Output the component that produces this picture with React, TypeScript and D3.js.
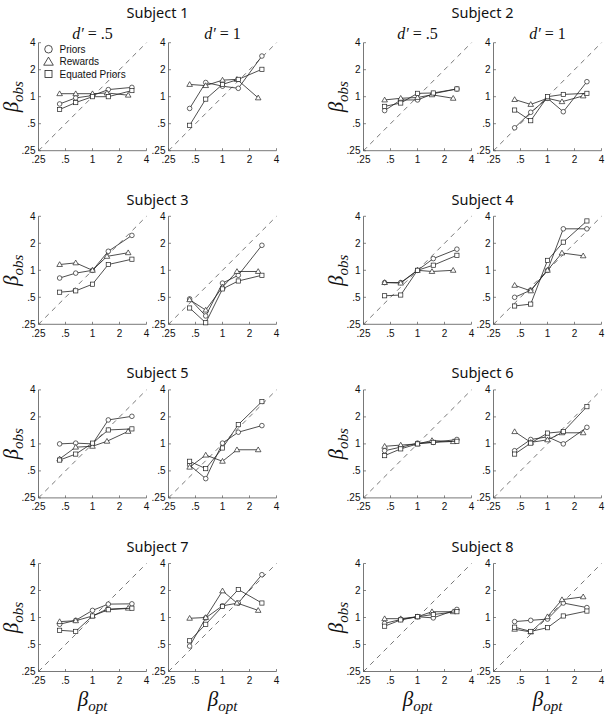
import React from "react";
import * as d3 from "d3";

const subjects = ["Subject 1", "Subject 2", "Subject 3", "Subject 4", "Subject 5", "Subject 6", "Subject 7", "Subject 8"];
const dPrimeLabels = [".5", "1"];
const tickValues = [0.25, 0.5, 1, 2, 4];
const tickLabels = [".25", ".5", "1", "2", "4"];
const seriesNames = ["Priors", "Rewards", "Equated Priors"];
const seriesMarkers = ["circle", "triangle", "square"];

const xPriors = [0.43, 0.65, 1, 1.5, 2.75];
const xRewards = [0.43, 0.65, 1, 1.45, 2.5];
const xEquated = [0.43, 0.65, 1, 1.5, 2.75];

// [subject][d' panel][5 values]
const priorsObs = [
  [[0.83, 0.97, 1.03, 1.2, 1.27], [0.74, 1.44, 1.31, 1.24, 2.84]],
  [[0.7, 0.92, 0.92, 1.08, 1.22], [0.45, 0.67, 0.96, 0.68, 1.47]],
  [[0.82, 0.93, 1.0, 1.63, 2.45], [0.48, 0.31, 0.72, 0.88, 1.9]],
  [[0.73, 0.73, 1.0, 1.35, 1.72], [0.5, 0.6, 1.0, 2.9, 2.9]],
  [[1.0, 1.02, 1.0, 1.85, 2.03], [0.58, 0.41, 1.02, 1.35, 1.6]],
  [[0.84, 0.92, 1.02, 1.04, 1.12], [0.84, 1.12, 1.2, 1.0, 1.53]],
  [[0.84, 0.93, 1.2, 1.41, 1.42], [0.48, 0.99, 1.35, 1.45, 3.0]],
  [[0.86, 0.95, 1.02, 0.99, 1.23], [0.9, 0.93, 0.96, 1.45, 1.29]],
];
const rewardsObs = [
  [[1.08, 1.08, 1.08, 1.1, 1.04], [1.37, 1.33, 1.53, 1.56, 0.97]],
  [[0.92, 0.96, 0.98, 1.05, 0.96], [0.93, 0.82, 0.96, 0.88, 1.02]],
  [[1.16, 1.21, 1.0, 1.43, 1.57], [0.47, 0.36, 0.65, 0.97, 0.97]],
  [[0.73, 0.72, 1.0, 0.97, 1.0], [0.68, 0.59, 1.0, 1.56, 1.45]],
  [[0.68, 0.92, 0.94, 1.07, 1.38], [0.55, 0.75, 0.64, 0.86, 0.86]],
  [[0.94, 0.97, 1.0, 1.09, 1.06], [1.37, 1.04, 1.11, 1.33, 1.33]],
  [[0.9, 0.92, 1.04, 1.24, 1.27], [0.98, 1.0, 1.98, 1.45, 1.2]],
  [[0.97, 0.97, 1.02, 1.16, 1.16], [0.74, 0.69, 1.02, 1.58, 1.7]],
];
const equatedObs = [
  [[0.72, 0.86, 1.0, 1.0, 1.17], [0.48, 0.94, 1.37, 1.56, 2.02]],
  [[0.78, 0.85, 1.09, 1.1, 1.22], [0.71, 0.54, 1.0, 1.06, 1.09]],
  [[0.57, 0.59, 0.7, 1.16, 1.33], [0.38, 0.26, 0.62, 0.76, 0.88]],
  [[0.52, 0.53, 1.0, 1.14, 1.47], [0.4, 0.42, 1.29, 2.06, 3.55]],
  [[0.66, 0.77, 1.02, 1.43, 1.47], [0.64, 0.53, 0.9, 1.64, 2.96]],
  [[0.74, 0.88, 1.0, 1.04, 1.07], [0.77, 1.02, 1.32, 1.37, 2.6]],
  [[0.72, 0.7, 1.04, 1.22, 1.27], [0.55, 0.84, 1.33, 2.05, 1.45]],
  [[0.8, 0.94, 1.02, 1.08, 1.16], [0.78, 0.7, 0.77, 1.04, 1.18]],
];

const W = 612;
const H = 714;
const SIZE = 108;
const sansFont = "'Liberation Sans', Arial, sans-serif";
const titleFont = "'Noto Sans', 'Open Sans', sans-serif";
const serifFont = "'Liberation Serif', 'DejaVu Serif', serif";

function Marker({ type, x, y }: { type: string; x: number; y: number }) {
  const common = { fill: "white", stroke: "#222", strokeWidth: 0.7 };
  if (type === "circle") return <circle cx={x} cy={y} r={2.3} {...common} />;
  if (type === "square") return <rect x={x - 2.1} y={y - 2.1} width={4.2} height={4.2} {...common} />;
  const s = 2.8;
  return <path d={`M${x},${y - s}L${x + s},${y + s * 0.7}L${x - s},${y + s * 0.7}Z`} {...common} />;
}

function Panel({ left, top, subj, p, showY, showX, showLegend }: any) {
  const xs = d3.scaleLog().base(2).domain([0.25, 4]).range([left, left + SIZE]);
  const ys = d3.scaleLog().base(2).domain([0.25, 4]).range([top + SIZE, top]);
  const line = d3.line<[number, number]>().x((d) => xs(d[0])).y((d) => ys(d[1]));
  const series = [
    { xv: xPriors, yv: priorsObs[subj][p], m: seriesMarkers[0] },
    { xv: xRewards, yv: rewardsObs[subj][p], m: seriesMarkers[1] },
    { xv: xEquated, yv: equatedObs[subj][p], m: seriesMarkers[2] },
  ];
  const axisColor = "#555";
  const ly = (i: number) => top + 6.5 + i * 12.4;
  return (
    <g>
      <line x1={xs(0.25)} y1={ys(0.25)} x2={xs(4)} y2={ys(4)} stroke="#555" strokeWidth={0.8} strokeDasharray="5,4.5" />
      <line x1={left} y1={top} x2={left} y2={top + SIZE} stroke={axisColor} strokeWidth={0.8} />
      <line x1={left} y1={top + SIZE} x2={left + SIZE} y2={top + SIZE} stroke={axisColor} strokeWidth={0.8} />
      {tickValues.map((t, i) => (
        <g key={"t" + i}>
          <line x1={xs(t)} x2={xs(t)} y1={top + SIZE} y2={top + SIZE - 2.5} stroke={axisColor} strokeWidth={0.7} />
          <line x1={left} x2={left + 2.5} y1={ys(t)} y2={ys(t)} stroke={axisColor} strokeWidth={0.7} />
          <text x={xs(t)} y={top + SIZE + 12.5} fontSize={10} fontFamily={sansFont} textAnchor="middle" fill="#111">
            {tickLabels[i]}
          </text>
          <text x={left - 3} y={ys(t) + 3.5} fontSize={10} fontFamily={sansFont} textAnchor="end" fill="#111">
            {tickLabels[i]}
          </text>
        </g>
      ))}
      {series.map((s, si) => {
        const pts = s.xv.map((x, k) => [x, s.yv[k]] as [number, number]);
        return (
          <g key={"s" + si}>
            <path d={line(pts) || ""} fill="none" stroke="#222" strokeWidth={0.8} />
            {pts.map((d, k) => (
              <Marker key={k} type={s.m} x={xs(d[0])} y={ys(d[1])} />
            ))}
          </g>
        );
      })}
      {showY && (
        <text
          transform={`translate(${left - 21},${top + SIZE / 2}) rotate(-90)`}
          textAnchor="middle"
          fontFamily={serifFont}
          fontStyle="italic"
          fontSize={21}
          fill="#111"
        >
          β<tspan fontSize={15} dy={5}>obs</tspan>
        </text>
      )}
      {showX && (
        <text x={left + SIZE / 2} y={top + SIZE + 34} textAnchor="middle" fontFamily={serifFont} fontStyle="italic" fontSize={21} fill="#111">
          β<tspan fontSize={15} dy={5}>opt</tspan>
        </text>
      )}
      {showLegend &&
        seriesNames.map((n, i) => (
          <g key={"l" + i}>
            {i === 0 && <circle cx={left + 10} cy={ly(i)} r={3.8} fill="white" stroke="#222" strokeWidth={0.8} />}
            {i === 1 && (
              <path
                d={`M${left + 10},${ly(i) - 4.5}L${left + 14.8},${ly(i) + 3.6}L${left + 5.2},${ly(i) + 3.6}Z`}
                fill="white"
                stroke="#222"
                strokeWidth={0.8}
              />
            )}
            {i === 2 && <rect x={left + 6.5} y={ly(i) - 3.5} width={7} height={7} fill="white" stroke="#222" strokeWidth={0.8} />}
            <text x={left + 21} y={ly(i) + 3.6} fontSize={10} fontFamily={sansFont} fill="#111">
              {n}
            </text>
          </g>
        ))}
    </g>
  );
}

export default function App() {
  const panels: any[] = [];
  const labels: any[] = [];
  subjects.forEach((name, s) => {
    const row = Math.floor(s / 2);
    const col = s % 2;
    const top = 42.7 + row * 173.6;
    const baseLeft = 38.5 + col * 325;
    const titleY = row === 0 ? 18 : top - 11.5;
    labels.push(
      <text key={"title" + s} x={baseLeft + (130 + SIZE) / 2} y={titleY} textAnchor="middle" fontFamily={titleFont} fontSize={14.5} fill="#111">
        {name}
      </text>
    );
    [0, 1].forEach((p) => {
      const left = baseLeft + p * 130;
      panels.push(
        <Panel key={`p${s}-${p}`} left={left} top={top} subj={s} p={p} showY={p === 0} showX={row === 3} showLegend={s === 0 && p === 0} />
      );
      if (row === 0) {
        labels.push(
          <text key={`d${s}-${p}`} x={left + SIZE / 2} y={38.5} textAnchor="middle" fontFamily={serifFont} fontSize={16} fill="#111">
            <tspan fontStyle="italic">d′</tspan> = {dPrimeLabels[p]}
          </text>
        );
      }
    });
  });
  return (
    <svg width={W} height={H} style={{ position: "absolute", left: 0, top: 0, background: "white" }}>
      <rect width={W} height={H} fill="white" />
      {labels}
      {panels}
    </svg>
  );
}
